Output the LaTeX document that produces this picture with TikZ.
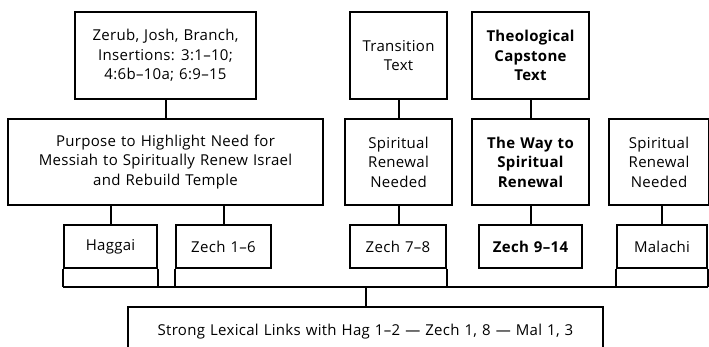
\documentclass[tikz,border=0pt]{standalone}
\usepackage{fontspec}
\setmainfont{Open Sans}[LetterSpace=2,WordSpace=1.2]
\begin{document}
\begin{tikzpicture}[x=1pt,y=-1pt,
  box/.style={draw,line width=2pt,align=center,inner sep=0pt,font=\fontsize{15}{19.5}\selectfont},
  boldbox/.style={box,font=\fontsize{15}{19.5}\selectfont\bfseries},
  link/.style={line width=2pt}]
\clip (0,0) rectangle (709,346);
\node[box,minimum width=181,minimum height=87] (zerub) at (165.5,55.5) {Zerub, Josh, Branch,\\Insertions: 3:1--10;\\4:6b--10a; 6:9--15};
\node[box,minimum width=97,minimum height=87] (trans) at (398.5,55.5) {Transition\\Text};
\node[boldbox,minimum width=117,minimum height=87] (theo) at (530.5,55.5) {Theological\\Capstone\\Text};
\node[box,minimum width=315,minimum height=86] (purpose) at (165.5,162) {Purpose to Highlight Need for\\Messiah to Spiritually Renew Israel\\and Rebuild Temple};
\node[box,minimum width=107,minimum height=86] (spir1) at (398.5,162) {Spiritual\\Renewal\\Needed};
\node[boldbox,minimum width=117,minimum height=86] (way) at (530.5,162) {The Way to\\Spiritual\\Renewal};
\node[box,minimum width=100,minimum height=86] (spir2) at (659,162) {Spiritual\\Renewal\\Needed};
\node[box,minimum width=93,minimum height=43] (haggai) at (110.5,246.5) {Haggai};
\node[box,minimum width=95,minimum height=43] (zech16) at (223.5,246.5) {Zech 1--6};
\node[box,minimum width=96,minimum height=43] (zech78) at (398,246.5) {Zech 7--8};
\node[boldbox,minimum width=103,minimum height=43] (zech914) at (530.5,246.5) {Zech 9--14};
\node[box,minimum width=90,minimum height=43] (malachi) at (662,246.5) {Malachi};
\node[box,minimum width=475,minimum height=50] (links) at (365.5,332) {Strong Lexical Links with Hag 1--2 --- Zech 1, 8 --- Mal 1, 3};
\coordinate (busL) at (64,287);
\coordinate (busR) at (707,287);
\draw[link] (zerub.south) -- (zerub.south |- purpose.north);
\draw[link] (trans.south) -- (spir1.north);
\draw[link] (theo.south) -- (way.north);
\draw[link] (haggai.north) -- (haggai.north |- purpose.south);
\draw[link] (zech16.north) -- (zech16.north |- purpose.south);
\draw[link] (spir1.south) -- (spir1.south |- zech78.north);
\draw[link] (way.south) -- (way.south |- zech914.north);
\draw[link] (malachi.north) -- (malachi.north |- spir2.south);
\draw[link] (haggai.south west) -- (haggai.south west |- busL);
\draw[link] (haggai.south east) -- (haggai.south east |- busL);
\draw[link] (zech16.south west) -- (zech16.south west |- busL);
\draw[link] (zech78.south east) -- (zech78.south east |- busL);
\draw[link] (malachi.south west) -- (malachi.south west |- busL);
\draw[link] (malachi.south east) -- (malachi.south east |- busL);
\draw[link,line cap=rect] (busL) -- (busR);
\draw[link] (links.north) -- (links.north |- busL);
\end{tikzpicture}
\end{document}
